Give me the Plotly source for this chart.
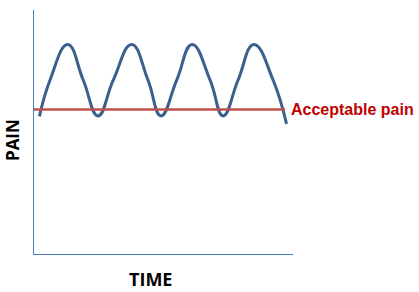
import plotly.graph_objects as go

# Pain curve (arbitrary time / pain units)
time_pts = [0.21, 0.62, 1.30, 1.90, 2.47, 3.06, 3.77, 4.40, 4.90, 5.51, 6.10, 6.80, 7.30, 7.88, 8.49, 9.23, 9.75]
pain_pts = [5.64, 7.13, 8.59, 7.13, 5.66, 7.13, 8.59, 7.13, 5.66, 7.13, 8.59, 7.13, 5.66, 7.13, 8.59, 7.13, 5.33]

# Acceptable pain threshold
threshold_time = [0.0, 9.69]
threshold_pain = [5.92, 5.92]

threshold_label = "Acceptable pain"
x_title = "TIME"
y_title = "PAIN"

fig = go.Figure()
fig.add_trace(go.Scatter(
    x=time_pts, y=pain_pts, mode="lines",
    line=dict(color="#3B5F8E", width=3, shape="spline", smoothing=1.3),
    hoverinfo="skip", showlegend=False,
))
fig.add_trace(go.Scatter(
    x=threshold_time, y=threshold_pain, mode="lines",
    line=dict(color="#C0504D", width=2.5),
    hoverinfo="skip", showlegend=False,
))

fig.add_annotation(
    x=threshold_time[1], y=threshold_pain[0], xref="x", yref="y",
    text=threshold_label, showarrow=False, xanchor="left", yanchor="middle",
    xshift=4, yshift=0,
    font=dict(family="Liberation Sans, Arial, sans-serif", size=16, color="#C00000", weight="bold"),
)
fig.add_annotation(
    x=0.448, y=-0.102, xref="paper", yref="paper",
    text=x_title, showarrow=False, xanchor="center", yanchor="middle",
    font=dict(family="Open Sans, sans-serif", size=18, color="#000000", weight="bold"),
)
fig.add_annotation(
    x=-0.085, y=0.467, xref="paper", yref="paper",
    text=y_title, showarrow=False, xanchor="center", yanchor="middle", textangle=-90,
    font=dict(family="Open Sans, sans-serif", size=17, color="#000000", weight="bold"),
)

fig.update_xaxes(range=[0, 10], showline=True, linecolor="#4A7EBB", linewidth=1.3,
                 showgrid=False, zeroline=False, showticklabels=False, ticks="")
fig.update_yaxes(range=[0, 10], showline=True, linecolor="#4A7EBB", linewidth=1.3,
                 showgrid=False, zeroline=False, showticklabels=False, ticks="")

fig.update_layout(
    width=419, height=292,
    margin=dict(l=34, r=126, t=10, b=38),
    paper_bgcolor="white", plot_bgcolor="white",
)

fig.write_html("out.html")
